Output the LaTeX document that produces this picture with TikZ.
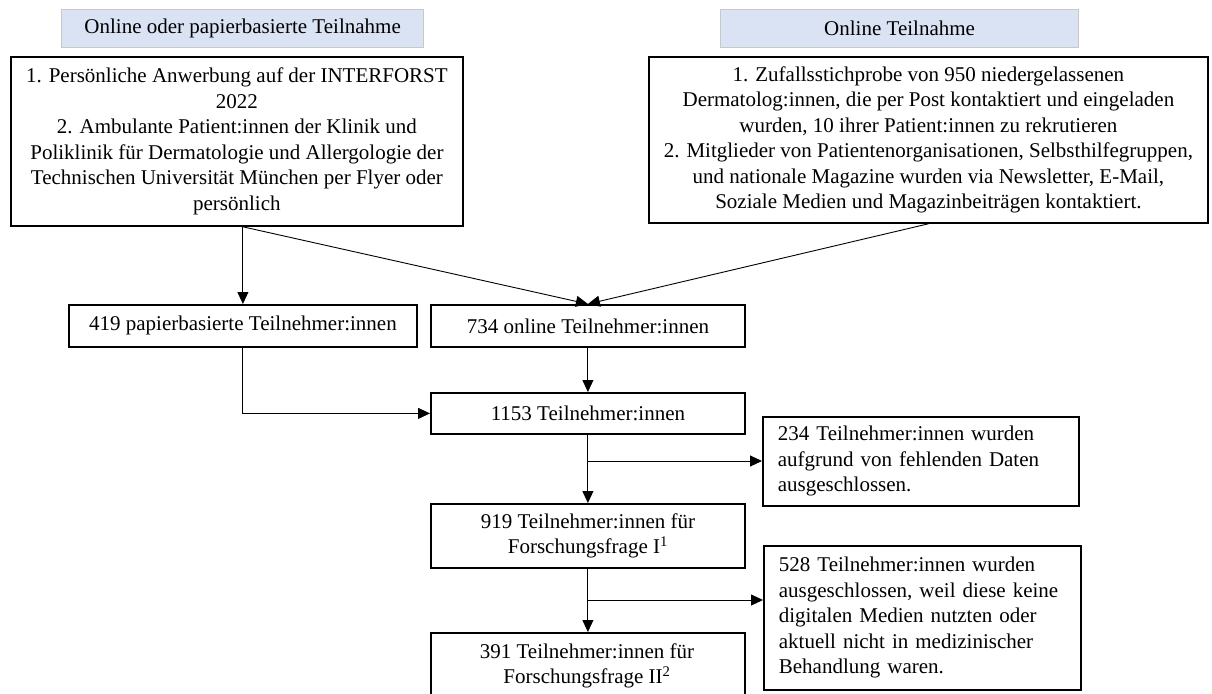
\documentclass[tikz,border=0pt]{standalone}
\usepackage{fontspec}
\setmainfont{Liberation Serif}
\usetikzlibrary{arrows.meta,calc}
\definecolor{hdrfill}{RGB}{218,227,243}
\definecolor{hdrline}{RGB}{200,200,200}
\begin{document}
\begin{tikzpicture}[x=1pt,y=-1pt,
  txt/.style={font=\fontsize{21}{25.5}\selectfont},
  hdr/.style={txt,fill=hdrfill,draw=hdrline,line width=1.2pt,anchor=north west,inner sep=0pt},
  box/.style={txt,draw=black,line width=1.8pt,anchor=north west,inner sep=0pt,align=center},
  lbox/.style={txt,draw=black,line width=1.8pt,anchor=north west,inner xsep=15pt,inner ysep=0pt,align=left},
  arr/.style={line width=0.9pt,-{Triangle[length=12pt,width=11pt]}},
  ln/.style={line width=0.9pt}]
\useasboundingbox (0,0) rectangle (1212,693);
\begin{scope}
\clip (0,0) rectangle (1212,693);
\node[hdr,minimum width=362pt,minimum height=38pt] (h1) at (61,9) {Online oder papierbasierte Teilnahme};
\node[hdr,minimum width=358pt,minimum height=38pt] (h2) at (720,9) {Online Teilnahme};
\node[box,minimum width=452pt,minimum height=169pt] (A) at (10,56) {1. Persönliche Anwerbung auf der INTERFORST\\2022\\2. Ambulante Patient:innen der Klinik und\\Poliklinik für Dermatologie und Allergologie der\\Technischen Universität München per Flyer oder\\persönlich};
\node[box,minimum width=559pt,minimum height=166pt] (B) at (648,56) {1. Zufallsstichprobe von 950 niedergelassenen\\Dermatolog:innen, die per Post kontaktiert und eingeladen\\wurden, 10 ihrer Patient:innen zu rekrutieren\\2. Mitglieder von Patientenorganisationen, Selbsthilfegruppen,\\und nationale Magazine wurden via Newsletter, E-Mail,\\Soziale Medien und Magazinbeiträgen kontaktiert.};
\node[box,minimum width=348pt,minimum height=42pt] (p419) at (68,304) {419 papierbasierte Teilnehmer:innen};
\node[box,minimum width=314pt,minimum height=42pt] (o734) at (430,304) {734 online Teilnehmer:innen};
\node[box,minimum width=314pt,minimum height=41pt] (t1153) at (430,392) {1153 Teilnehmer:innen};
\node[lbox,minimum width=316pt,minimum height=89pt,text width=286pt] (e234) at (762,416) {234 Teilnehmer:innen wurden\\aufgrund von fehlenden Daten\\ausgeschlossen.};
\node[box,minimum width=314pt,minimum height=64pt] (f919) at (430,503) {919 Teilnehmer:innen für\\Forschungsfrage I\textsuperscript{1}};
\node[lbox,minimum width=317pt,minimum height=144pt,text width=287pt] (e528) at (763,545) {528 Teilnehmer:innen wurden\\ausgeschlossen, weil diese keine\\digitalen Medien nutzten oder\\aktuell nicht in medizinischer\\Behandlung waren.};
\node[box,minimum width=314pt,minimum height=72pt] (f391) at (430,632) {};
\node[txt,align=center,anchor=north] (f391t) at (587,640) {391 Teilnehmer:innen für\\Forschungsfrage II\textsuperscript{2}};
\end{scope}
\coordinate (aA) at (p419.north |- A.south);
\draw[arr] (aA) -- (p419.north);
\draw[arr] (aA) -- (o734.north);
\draw[arr] (B.south) -- (o734.north);
\draw[arr] (o734.south) -- (t1153.north);
\draw[arr] (p419.south) |- (t1153.west);
\draw[arr] (t1153.south) -- (f919.north);
\coordinate (b1) at (t1153.south |- 0,461);
\draw[arr] (b1) -- (b1 -| e234.west);
\draw[arr] (f919.south) -- (f391.north);
\coordinate (b2) at (f919.south |- 0,600);
\draw[arr] (b2) -- (b2 -| e528.west);
\end{tikzpicture}
\end{document}
